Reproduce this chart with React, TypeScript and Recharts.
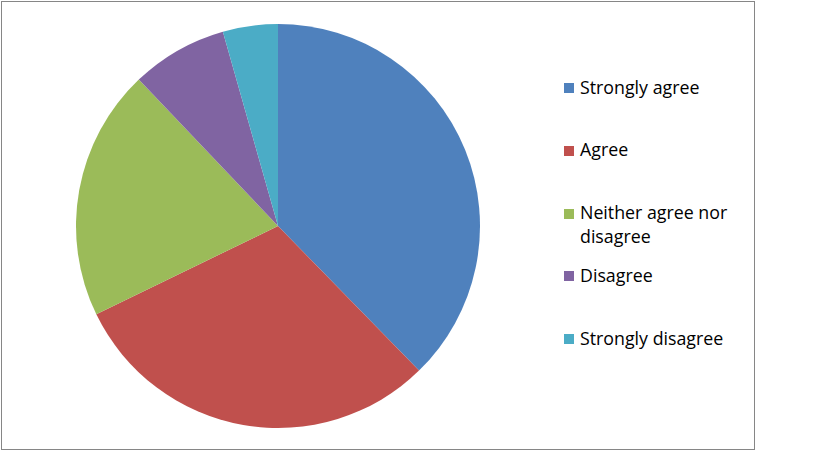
import { PieChart, Pie, Cell, Legend } from 'recharts';

const categories = [
  'Strongly agree',
  'Agree',
  'Neither agree nor disagree',
  'Disagree',
  'Strongly disagree',
];
const shares = [37.7, 30.1, 20.1, 7.7, 4.4];
const colors = ['#4F81BD', '#C0504D', '#9BBB59', '#8064A2', '#4BACC6'];

const data = categories.map((name, i) => ({ name, value: shares[i] }));

function LegendBox({ payload }: any) {
  // keep the order of the categories, not the alphabetical one
  const items = [...(payload || [])].sort(
    (a: any, b: any) => categories.indexOf(a.value) - categories.indexOf(b.value)
  );
  return (
    <div style={{ display: 'flex', flexDirection: 'column' }}>
      {items.map((entry: any) => (
        <div
          key={entry.value}
          style={{ height: 62.75, display: 'flex', alignItems: 'flex-start' }}
        >
          <span
            style={{
              width: 10,
              height: 10,
              marginTop: 7,
              marginRight: 6,
              background: entry.color,
              flex: 'none',
            }}
          />
          <span
            style={{
              width: 160,
              fontSize: 17.8,
              lineHeight: '24px',
              marginTop: -1.5,
              color: '#000',
              fontFamily: '"Open Sans", sans-serif',
            }}
          >
            {entry.value}
          </span>
        </div>
      ))}
    </div>
  );
}

export default function App() {
  return (
    <div
      style={{
        position: 'absolute',
        left: 0,
        top: 0,
        width: 819,
        height: 460,
        background: '#fff',
      }}
    >
      <div
        style={{
          position: 'absolute',
          left: 1,
          top: 1,
          width: 752,
          height: 447,
          border: '1.5px solid #868686',
        }}
      />
      <PieChart width={819} height={460} margin={{ top: 0, right: 0, bottom: 0, left: 0 }}>
        <Pie
          data={data}
          dataKey="value"
          nameKey="name"
          cx={278}
          cy={226}
          outerRadius={202}
          startAngle={90}
          endAngle={-270}
          stroke="none"
          isAnimationActive={false}
        >
          {data.map((d, i) => (
            <Cell key={d.name} fill={colors[i]} />
          ))}
        </Pie>
        <Legend
          content={<LegendBox />}
          wrapperStyle={{ position: 'absolute', left: 564, top: 76, width: 200 }}
        />
      </PieChart>
    </div>
  );
}
